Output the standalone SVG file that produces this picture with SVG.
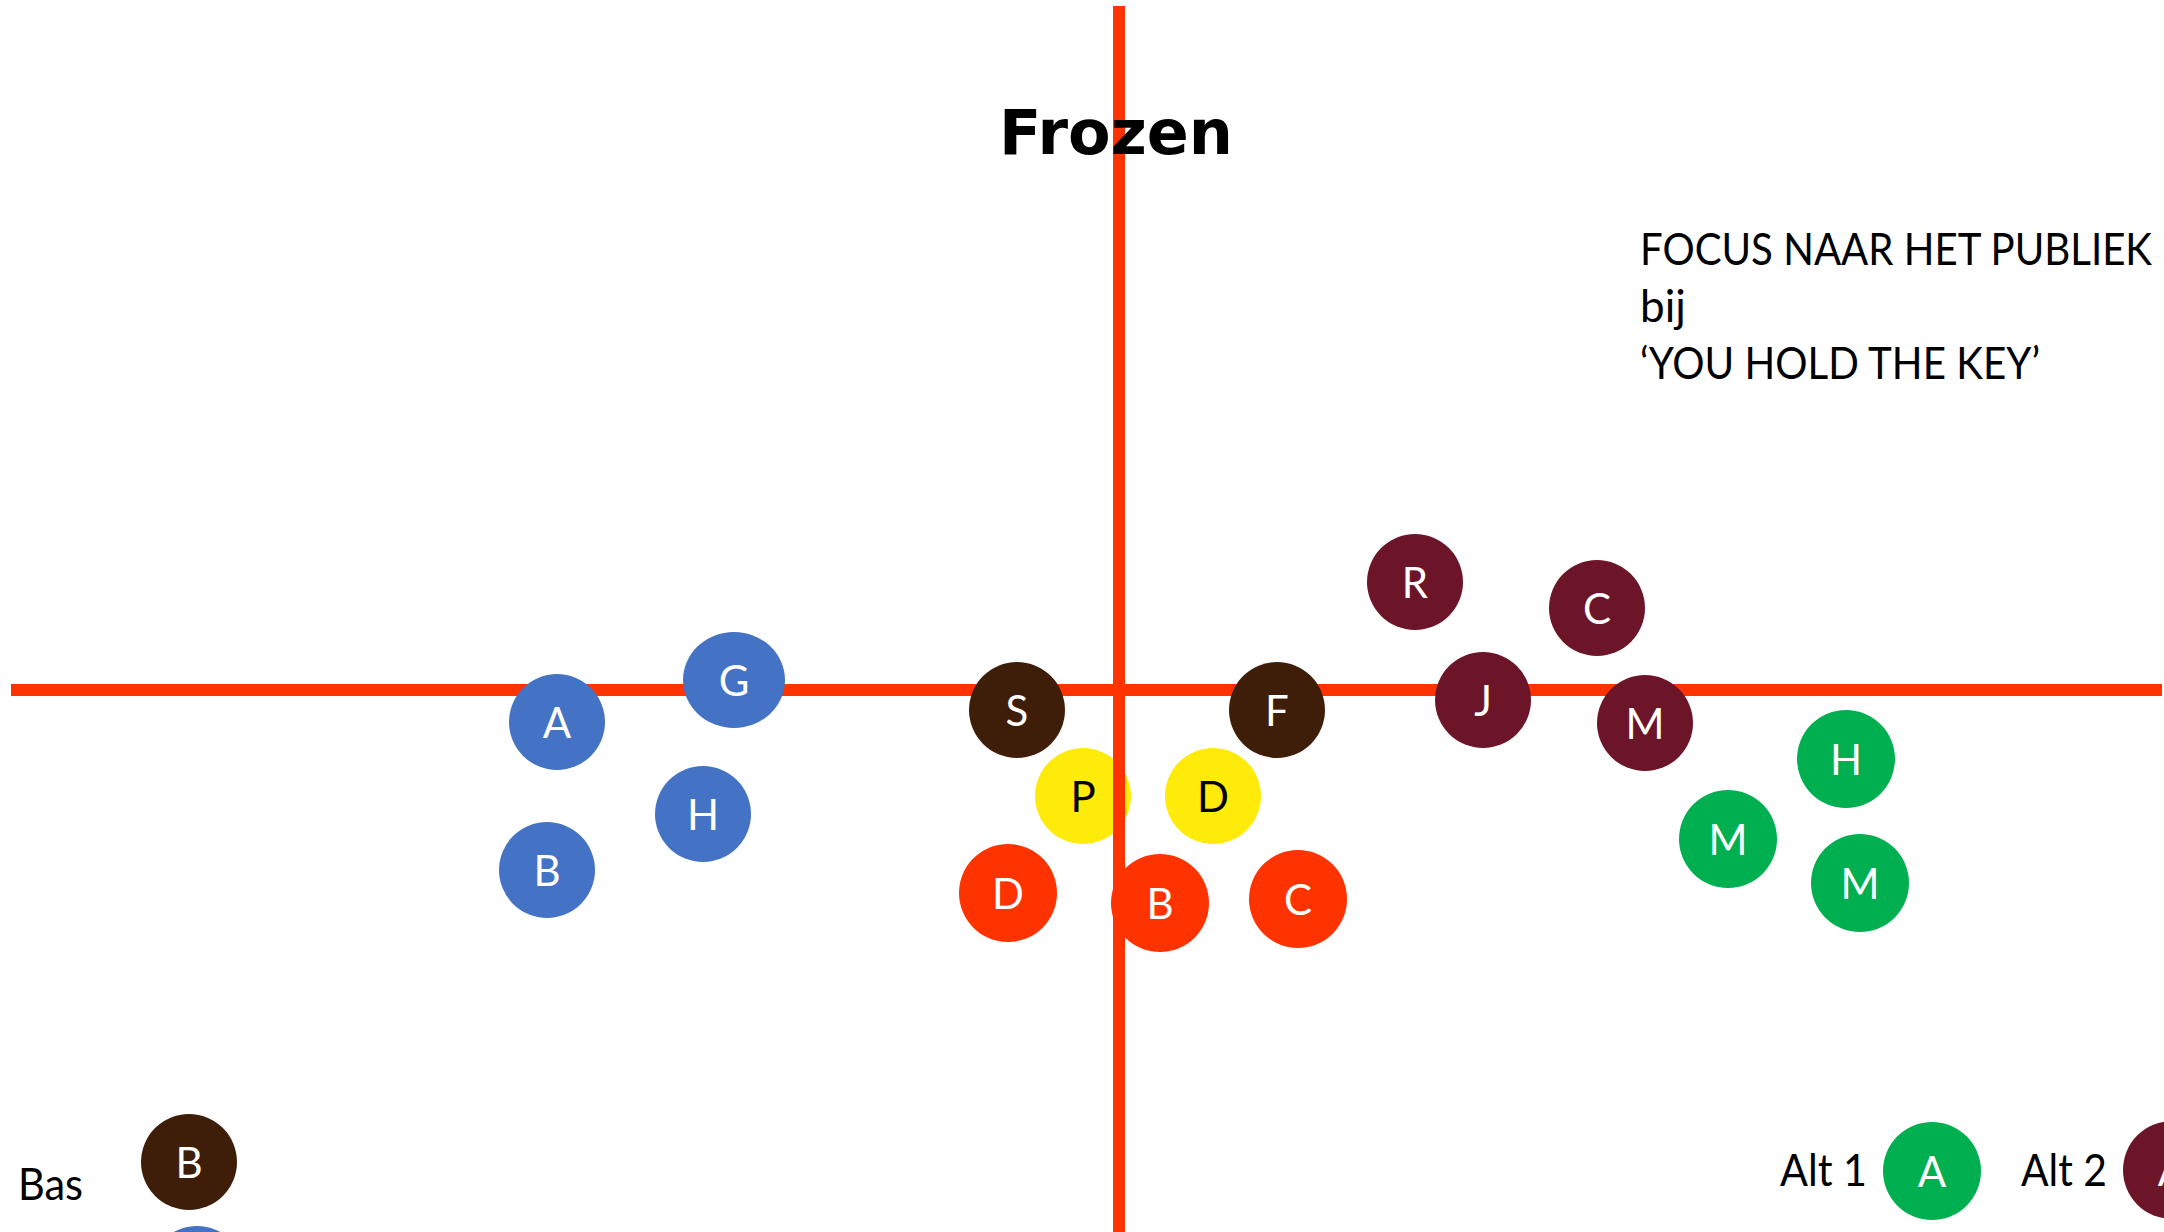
<svg xmlns="http://www.w3.org/2000/svg" width="2164" height="1232" viewBox="0 0 2164 1232">
<style>
.ax{stroke:#FF3300;stroke-width:12;fill:none}
.lbl{font-family:Lato,"Liberation Sans",sans-serif;font-size:42px;fill:#fff;text-anchor:middle}
.lblk{fill:#000}
.txt{font-family:Lato,"Liberation Sans",sans-serif;font-size:44px;fill:#000}
.blue{fill:#4472C4}.red{fill:#FF3300}.brown{fill:#3E1E08}.wine{fill:#6D1528}.yel{fill:#FFEB0A}.grn{fill:#00B050}
</style>
<rect width="2164" height="1232" fill="#fff"/>
<g id="connectors">
<line class="ax" x1="11" y1="690" x2="2162" y2="690"/>
</g>
<g id="node-blue-A"><circle class="blue" cx="557" cy="722" r="48"/><text class="lbl" x="557" y="738">A</text></g>
<g id="node-blue-G"><ellipse class="blue" cx="734" cy="680" rx="51" ry="48"/><text class="lbl" x="734" y="696">G</text></g>
<g id="node-blue-H"><circle class="blue" cx="703" cy="814" r="48"/><text class="lbl" x="703" y="830">H</text></g>
<g id="node-blue-B"><circle class="blue" cx="547" cy="870" r="48"/><text class="lbl" x="547" y="886">B</text></g>
<g id="node-brown-S"><circle class="brown" cx="1017" cy="710" r="48"/><text class="lbl" x="1017" y="726">S</text></g>
<g id="node-brown-F"><circle class="brown" cx="1277" cy="710" r="48"/><text class="lbl" x="1277" y="726">F</text></g>
<g id="node-yellow-P"><circle class="yel" cx="1083" cy="796" r="48"/><text class="lbl lblk" x="1083" y="812">P</text></g>
<g id="node-yellow-D"><circle class="yel" cx="1213" cy="796" r="48"/><text class="lbl lblk" x="1213" y="812">D</text></g>
<g id="node-red-D"><circle class="red" cx="1008" cy="893" r="49"/><text class="lbl" x="1008" y="909">D</text></g>
<g id="node-red-B"><circle class="red" cx="1160" cy="903" r="49"/><text class="lbl" x="1160" y="919">B</text></g>
<g id="node-red-C"><circle class="red" cx="1298" cy="899" r="49"/><text class="lbl" x="1298" y="915">C</text></g>
<g id="node-wine-R"><circle class="wine" cx="1415" cy="582" r="48"/><text class="lbl" x="1415" y="598">R</text></g>
<g id="node-wine-C"><circle class="wine" cx="1597" cy="608" r="48"/><text class="lbl" x="1597" y="624">C</text></g>
<g id="node-wine-J"><circle class="wine" cx="1483" cy="700" r="48"/><text class="lbl" x="1483" y="716">J</text></g>
<g id="node-wine-M"><circle class="wine" cx="1645" cy="723" r="48"/><text class="lbl" x="1645" y="739">M</text></g>
<g id="node-green-H"><circle class="grn" cx="1846" cy="759" r="49"/><text class="lbl" x="1846" y="775">H</text></g>
<g id="node-green-M1"><circle class="grn" cx="1728" cy="839" r="49"/><text class="lbl" x="1728" y="855">M</text></g>
<g id="node-green-M2"><circle class="grn" cx="1860" cy="883" r="49"/><text class="lbl" x="1860" y="899">M</text></g>
<g id="axis-vertical"><line class="ax" x1="1119" y1="6" x2="1119" y2="1232"/></g>
<g id="title"><text x="1116" y="154" font-family="'DejaVu Sans',Verdana,sans-serif" font-weight="bold" font-size="62" text-anchor="middle" fill="#000">Frozen</text></g>
<g id="note">
<text class="txt" x="1640" y="265" textLength="512" lengthAdjust="spacingAndGlyphs">FOCUS NAAR HET PUBLIEK</text>
<text class="txt" x="1640" y="322">bij</text>
<text class="txt" x="1640" y="379" textLength="400" lengthAdjust="spacingAndGlyphs">‘YOU HOLD THE KEY’</text>
</g>
<g id="legend-bas">
<text class="txt" x="18" y="1200" font-size="40" textLength="65" lengthAdjust="spacingAndGlyphs">Bas</text>
<circle class="brown" cx="189" cy="1162" r="48"/><text class="lbl" x="189" y="1178">B</text>
<circle class="blue" cx="197" cy="1274" r="48"/>
</g>
<g id="legend-alt1">
<text class="txt" x="1780" y="1186" textLength="87" lengthAdjust="spacingAndGlyphs">Alt 1</text>
<circle class="grn" cx="1932" cy="1171" r="49"/><text class="lbl" x="1932" y="1187">A</text>
</g>
<g id="legend-alt2">
<text class="txt" x="2021" y="1186" textLength="86" lengthAdjust="spacingAndGlyphs">Alt 2</text>
<circle class="wine" cx="2172" cy="1170" r="49"/><text class="lbl" x="2172" y="1186">A</text>
</g>
</svg>
